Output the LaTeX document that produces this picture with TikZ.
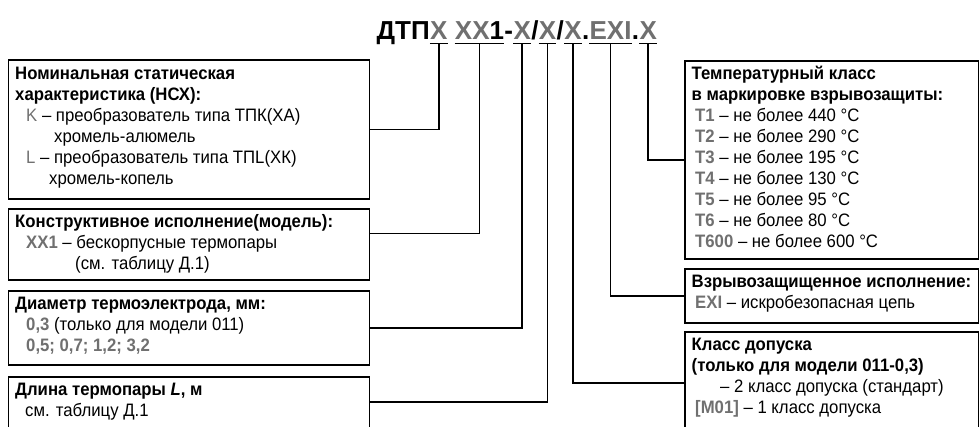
\documentclass[tikz,border=0pt]{standalone}
\usepackage{fontspec}
\setmainfont{Liberation Sans}[FakeStretch=0.93]
\newfontfamily\titlefont{Liberation Sans}
\usetikzlibrary{calc}
\definecolor{codegray}{RGB}{112,112,112}
\begin{document}
\begin{tikzpicture}[x=1pt,y=-1pt,
  conn/.style={line width=1.8pt},
  box/.style={draw,line width=1.8pt,inner sep=0pt,anchor=north west},
  txt/.style={anchor=base west,inner sep=0pt,font=\fontsize{18}{21}\selectfont},
  hd/.style={anchor=base west,inner sep=0pt,font=\fontsize{18}{21}\selectfont\bfseries},
  tt/.style={anchor=base west,inner sep=0pt,font=\titlefont\fontsize{26}{30}\selectfont\bfseries},
  ttc/.style={tt,text=codegray}]
\newcommand{\cd}[1]{\textcolor{codegray}{#1}}
\newcommand{\cdb}[1]{\textcolor{codegray}{\bfseries #1}}
\fill[white] (0,0) rectangle (979,426);
\useasboundingbox (0,0) rectangle (979,426);
% title
\node[tt] (tD) at (376.5,39) {ДТП};
\node[ttc] (tA) at (tD.base east) {X};
\node[tt] (tB) at ([xshift=7pt]tA.base east) {\textcolor{codegray}{XX}1};
\node[tt] (d1) at (tB.base east) {-};
\node[ttc] (tC) at (d1.base east) {X};
\node[tt] (s1) at (tC.base east) {/};
\node[ttc] (tE) at (s1.base east) {X};
\node[tt] (s2) at (tE.base east) {/};
\node[ttc] (tF) at (s2.base east) {X};
\node[tt] (p1) at (tF.base east) {.};
\node[ttc] (tG) at (p1.base east) {EXI};
\node[tt] (p2) at (tG.base east) {.};
\node[ttc] (tH) at (p2.base east) {X};
\foreach \n in {tA,tB,tC,tE,tF,tG,tH}{
  \draw[conn] ([yshift=-4.5pt]\n.base west) -- ([yshift=-4.5pt]\n.base east);
  \coordinate (u\n) at ([yshift=-4.5pt]\n.base);
}
% left boxes
\node[box,minimum width=361pt,minimum height=139pt] (b1) at (7.5,59) {};
\node[box,minimum width=361pt,minimum height=71pt] (b2) at (7.5,208) {};
\node[box,minimum width=361pt,minimum height=74pt] (b3) at (7.5,290) {};
\node[box,minimum width=361pt,minimum height=70pt] (b4) at (7.5,376) {};
% right boxes
\node[box,minimum width=293.5pt,minimum height=198pt] (r1) at (684,60) {};
\node[box,minimum width=293.5pt,minimum height=54pt] (r2) at (684,268) {};
\node[box,minimum width=293.5pt,minimum height=110pt] (r3) at (684,331) {};
% connectors
\draw[conn] (utA) |- (b1.east);
\draw[conn] (utB) |- ($(b2.north east)+(0,25.5)$);
\draw[conn] (utC) |- (b3.east);
\draw[conn] (utE) |- ($(b4.north east)+(0,26)$);
\draw[conn] (utF) |- ($(r3.north west)+(0,52)$);
\draw[conn] (utG) |- (r2.west);
\draw[conn] (utH) |- (r1.west);
% texts box 1
\node[hd] (b1h1) at (15,79) {Номинальная статическая};
\node[hd] (b1h2) at (15,100) {характеристика (НСХ):};
\node[txt] (b1l1) at (26,121) {\cd{K} – преобразователь типа ТПК(ХА)};
\node[txt] (b1l2) at (54,142) {хромель-алюмель};
\node[txt] (b1l3) at (26,163) {\cd{L} – преобразователь типа ТПL(ХК)};
\node[txt] (b1l4) at (49,184) {хромель-копель};
% box 2
\node[hd] (b2h) at (15,227.5) {Конструктивное исполнение(модель):};
\node[txt] (b2l1) at (26,248.5) {\cdb{XX1} – бескорпусные термопары};
\node[txt] (b2l2) at (75,269.5) {(см. таблицу Д.1)};
% box 3
\node[hd] (b3h) at (15,309.5) {Диаметр термоэлектрода, мм:};
\node[txt] (b3l1) at (26,330.5) {\cdb{0,3} (только для модели 011)};
\node[txt] (b3l2) at (26,351.5) {\cdb{0,5; 0,7; 1,2; 3,2}};
% box 4
\node[hd] (b4h) at (15,395.5) {Длина термопары \textit{L}, м};
\node[txt] (b4l1) at (25,416.5) {см. таблицу Д.1};
% right box 1
\node[hd] (r1h1) at (691.5,79.5) {Температурный класс};
\node[hd] (r1h2) at (691.5,100.5) {в маркировке взрывозащиты:};
\node[txt] (r1l1) at (695,121.5) {\cdb{T1} – не более 440 °C};
\node[txt] (r1l2) at (695,142.5) {\cdb{T2} – не более 290 °C};
\node[txt] (r1l3) at (695,163.5) {\cdb{T3} – не более 195 °C};
\node[txt] (r1l4) at (695,184.5) {\cdb{T4} – не более 130 °C};
\node[txt] (r1l5) at (695,205.5) {\cdb{T5} – не более 95 °C};
\node[txt] (r1l6) at (695,226.5) {\cdb{T6} – не более 80 °C};
\node[txt] (r1l7) at (695,247.5) {\cdb{T600} – не более 600 °C};
% right box 2
\node[hd] (r2h) at (691.5,287.5) {Взрывозащищенное исполнение:};
\node[txt] (r2l1) at (695,308.5) {\cdb{EXI} – искробезопасная цепь};
% right box 3
\node[hd] (r3h1) at (691.5,350.5) {Класс допуска};
\node[hd] (r3h2) at (691.5,371.5) {(только для модели 011-0,3)};
\node[txt] (r3l1) at (720,392.5) {– 2 класс допуска (стандарт)};
\node[txt] (r3l2) at (695,413.5) {\cdb{[M01]} – 1 класс допуска};
\end{tikzpicture}
\end{document}
